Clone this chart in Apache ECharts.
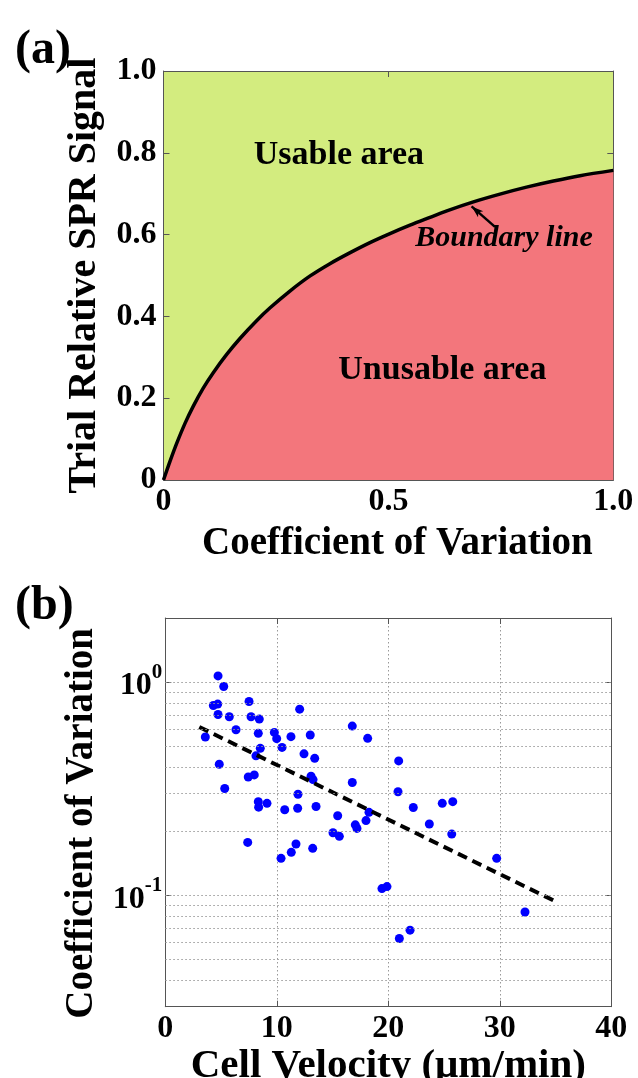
<!DOCTYPE html>
<html><head><meta charset="utf-8">
<script src="https://cdn.jsdelivr.net/npm/echarts@6/dist/echarts.min.js"></script>
<style>html,body{margin:0;padding:0;background:#fff}#c{width:638px;height:1078px}</style>
</head><body><div id="c"></div>
<script>
// ---------- Panel (a) data ----------
const aCov    = [0, 0.0144, 0.0293, 0.0478, 0.066, 0.088, 0.111, 0.1405, 0.170, 0.207, 0.237, 0.281, 0.326, 0.370, 0.415, 0.459, 0.5035, 0.548, 0.585, 0.630, 0.689, 0.748, 0.807, 0.867, 0.926, 1.0];
const aSignal = [0, 0.0455, 0.0895, 0.1385, 0.180, 0.224, 0.263, 0.307, 0.346, 0.3895, 0.421, 0.462, 0.499, 0.529, 0.556, 0.5805, 0.6025, 0.623, 0.639, 0.658, 0.680, 0.699, 0.716, 0.731, 0.744, 0.757];
const aXTickValues = [0, 0.5, 1.0];
const aXTickLabels = ['0', '0.5', '1.0'];
const aYTickValues = [0, 0.2, 0.4, 0.6, 0.8, 1.0];
const aYTickLabels = ['0', '0.2', '0.4', '0.6', '0.8', '1.0'];
const aNoteText = ['Usable area', 'Unusable area', 'Boundary line'];
const aNoteX = [0.39, 0.62, 0.757];
const aNoteY = [0.793, 0.269, 0.59];
const aArrowFrom = [0.737, 0.619];
const aArrowTo = [0.685, 0.669];

// ---------- Panel (b) data ----------
const bVelocity = [4.73, 5.24, 4.31, 4.70, 4.73, 5.74, 7.51, 7.69, 8.43, 6.34, 3.59, 8.34, 8.52, 8.13, 4.84, 5.33, 7.44, 7.98, 8.34, 8.37, 9.12, 7.39, 9.78, 9.99, 10.47, 11.27, 12.05, 13.0, 12.44, 13.4, 13.07, 13.25, 11.9, 10.71, 11.87, 13.52, 10.38, 11.3, 11.72, 13.22, 15.46, 15.04, 15.61, 16.77, 18.15, 16.77, 17.04, 17.19, 18.0, 18.27, 19.43, 19.88, 20.93, 20.87, 22.24, 23.68, 24.84, 25.78, 25.69, 29.72, 32.26, 20.99, 21.95];
const bCov      = [1.07, 0.954, 0.777, 0.789, 0.705, 0.688, 0.811, 0.688, 0.671, 0.598, 0.553, 0.575, 0.489, 0.451, 0.412, 0.317, 0.359, 0.367, 0.275, 0.259, 0.270, 0.177, 0.581, 0.543, 0.494, 0.555, 0.747, 0.565, 0.461, 0.439, 0.362, 0.349, 0.298, 0.252, 0.256, 0.261, 0.149, 0.159, 0.174, 0.166, 0.236, 0.1965, 0.189, 0.622, 0.545, 0.338, 0.214, 0.206, 0.224, 0.245, 0.1075, 0.1098, 0.427, 0.306, 0.258, 0.216, 0.270, 0.275, 0.1936, 0.149, 0.0835, 0.0627, 0.0686];
const bTrendX = [3.05, 35.19];
const bTrendY = [0.616, 0.0925];
const bXTickValues = [0, 10, 20, 30, 40];
const bXTickLabels = ['0', '10', '20', '30', '40'];
const bYTickValues = [0.1, 1];
const bYTickLabels = ['{b|10}{s|-1}', '{b|10}{s|0}'];
const bMinorGrid = [0.04, 0.05, 0.06, 0.07, 0.08, 0.09, 0.1, 0.2, 0.3, 0.4, 0.5, 0.6, 0.7, 0.8, 0.9, 1.0];

// ---------- helpers ----------
const FONT = "'Liberation Serif','Times New Roman',serif";
function pick(vals, labels, v) {
  for (let i = 0; i < vals.length; i++) if (Math.abs(vals[i] - v) < 1e-6 * Math.max(1, Math.abs(v))) return labels[i];
  return '';
}
function pickLog(vals, labels, v) {
  for (let i = 0; i < vals.length; i++) if (Math.abs(Math.log10(vals[i]) - Math.log10(v)) < 1e-6) return labels[i];
  return '';
}
const tickLbl = { fontFamily: FONT, fontWeight: 'bold', fontSize: 32, color: '#000' };
const nameLbl = { fontFamily: FONT, fontWeight: 'bold', fontSize: 39, color: '#000' };
const boxLine = { show: true, onZero: false, lineStyle: { color: '#555', width: 1 } };
const inTick = { show: true, inside: true, length: 6, lineStyle: { color: '#555', width: 1 } };
const dotted = { color: '#999', width: 1, type: [1.5, 2.5] };

const chart = echarts.init(document.getElementById('c'), null, { renderer: 'canvas' });
chart.setOption({
  animation: false,
  backgroundColor: '#fff',
  title: [
    { text: '(a)', left: 10, top: 22, textStyle: { fontFamily: FONT, fontWeight: 'bold', fontSize: 48, color: '#000' } },
    { text: '(b)', left: 10, top: 578, textStyle: { fontFamily: FONT, fontWeight: 'bold', fontSize: 48, color: '#000' } }
  ],
  grid: [
    { left: 163.5, top: 71, width: 449.8, height: 409, show: true, backgroundColor: '#D3EC7F', borderWidth: 0, outerBoundsMode: 'none', containLabel: false },
    { left: 165.3, top: 618, width: 446, height: 388.7, show: false, outerBoundsMode: 'none', containLabel: false }
  ],
  xAxis: [
    { gridIndex: 0, type: 'value', min: 0, max: 1, interval: 0.5, position: 'bottom',
      axisLine: boxLine, axisTick: inTick, splitLine: { show: false },
      axisLabel: Object.assign({ margin: 6, formatter: v => pick(aXTickValues, aXTickLabels, v) }, tickLbl),
      name: 'Coefficient of Variation', nameLocation: 'middle', nameGap: 44,
      nameTextStyle: Object.assign({ padding: [0, 0, 0, 18] }, nameLbl) },
    { gridIndex: 0, type: 'value', min: 0, max: 1, interval: 0.5, position: 'top',
      axisLine: boxLine, axisTick: inTick, splitLine: { show: false }, axisLabel: { show: false } },
    { gridIndex: 1, type: 'value', min: 0, max: 40, interval: 10, position: 'bottom',
      axisLine: boxLine, axisTick: inTick, splitLine: { show: true, lineStyle: dotted },
      axisLabel: Object.assign({ margin: 6, formatter: v => pick(bXTickValues, bXTickLabels, v) }, tickLbl),
      name: 'Cell Velocity (μm/min)', nameLocation: 'middle', nameGap: 38,
      nameTextStyle: Object.assign({}, nameLbl, { fontSize: 41 }) },
    { gridIndex: 1, type: 'value', min: 0, max: 40, interval: 10, position: 'top',
      axisLine: boxLine, axisTick: inTick, splitLine: { show: false }, axisLabel: { show: false } }
  ],
  yAxis: [
    { gridIndex: 0, type: 'value', min: 0, max: 1, interval: 0.2, position: 'left',
      axisLine: boxLine, axisTick: inTick, splitLine: { show: false },
      axisLabel: Object.assign({ margin: 7, formatter: v => pick(aYTickValues, aYTickLabels, v) }, tickLbl),
      name: 'Trial Relative SPR Signal', nameLocation: 'middle', nameGap: 59,
      nameTextStyle: Object.assign({}, nameLbl, { fontSize: 40 }) },
    { gridIndex: 0, type: 'value', min: 0, max: 1, interval: 0.2, position: 'right',
      axisLine: boxLine, axisTick: inTick, splitLine: { show: false }, axisLabel: { show: false } },
    { gridIndex: 1, type: 'log', logBase: 10, min: 0.03, max: 2, position: 'left',
      axisLine: boxLine, axisTick: inTick, splitLine: { show: false },
      axisLabel: { margin: 3, formatter: v => pickLog(bYTickValues, bYTickLabels, v),
        rich: {
          b: { fontFamily: FONT, fontWeight: 'bold', fontSize: 32, color: '#000', lineHeight: 40, verticalAlign: 'bottom' },
          s: { fontFamily: FONT, fontWeight: 'bold', fontSize: 21, color: '#000', lineHeight: 18, verticalAlign: 'top' }
        } },
      name: 'Coefficient of Variation', nameLocation: 'middle', nameGap: 63,
      nameTextStyle: Object.assign({ padding: [0, 22, 0, 0] }, nameLbl) },
    { gridIndex: 1, type: 'log', logBase: 10, min: 0.03, max: 2, position: 'right',
      axisLine: boxLine, axisTick: inTick, splitLine: { show: false }, axisLabel: { show: false } }
  ],
  series: [
    { type: 'line', xAxisIndex: 0, yAxisIndex: 0, data: aCov.map((x, i) => [x, aSignal[i]]),
      showSymbol: false, smooth: 0.3, z: 2,
      lineStyle: { color: '#000', width: 3.5 },
      areaStyle: { color: '#F3767C', opacity: 1 },
      markLine: { silent: true, symbol: ['none', 'arrow'], symbolSize: [6, 12],
        lineStyle: { color: '#000', width: 2.5, type: 'solid' }, label: { show: false },
        data: [[{ coord: aArrowFrom }, { coord: aArrowTo }]] }
    },
    { type: 'scatter', xAxisIndex: 0, yAxisIndex: 0, symbolSize: 0, silent: true, z: 10,
      itemStyle: { opacity: 1 },
      data: aNoteText.map((t, i) => ({ value: [aNoteX[i], aNoteY[i]], name: t,
        label: { show: true, position: 'inside', formatter: t, fontFamily: FONT, fontWeight: 'bold', color: '#000',
          fontSize: i === 2 ? 30 : 34, fontStyle: i === 2 ? 'italic' : 'normal' } })) },
    { type: 'scatter', xAxisIndex: 2, yAxisIndex: 2, data: bVelocity.map((x, i) => [x, bCov[i]]),
      symbol: 'circle', symbolSize: 9, itemStyle: { color: '#0000ff', opacity: 1 }, z: 3,
      markLine: { silent: true, symbol: 'none', label: { show: false }, lineStyle: dotted,
        data: bMinorGrid.map(v => ({ yAxis: v })) } },
    { type: 'line', xAxisIndex: 2, yAxisIndex: 2, data: bTrendX.map((x, i) => [x, bTrendY[i]]),
      showSymbol: false, lineStyle: { color: '#000', width: 4, type: [10, 6] }, z: 4 }
  ]
});
</script></body></html>
